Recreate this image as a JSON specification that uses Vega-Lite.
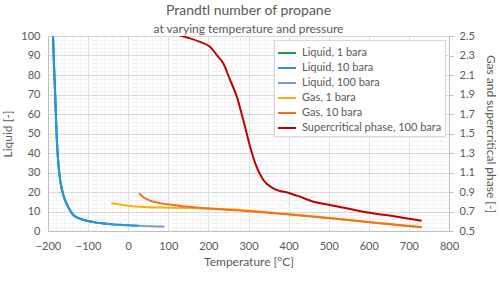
{
  "$schema": "https://vega.github.io/schema/vega-lite/v6.json",
  "width": 401,
  "height": 195,
  "autosize": {"type": "none"},
  "padding": {"left": 48, "top": 36, "right": 51, "bottom": 52},
  "background": "white",
  "title": {
    "text": "Prandtl number of propane",
    "subtitle": "at varying temperature and pressure",
    "font": "Lato", "subtitleFont": "Lato",
    "fontSize": 14, "subtitleFontSize": 12,
    "fontWeight": "normal",
    "color": "#595959", "subtitleColor": "#595959",
    "anchor": "middle", "frame": "group", "offset": -5, "subtitlePadding": 6
  },
  "config": {
    "view": {"stroke": null},
    "axis": {
      "labelFont": "Lato", "labelFontSize": 11, "labelColor": "#595959",
      "titleFont": "Lato", "titleFontSize": 12, "titleFontWeight": "normal", "titleColor": "#595959",
      "domainColor": "#bfbfbf", "labelOverlap": false
    },
    "axisX": {"labelOverlap": false, "labelFlush": false},
    "legend": {
      "labelFont": "Lato", "labelFontSize": 11, "labelColor": "#595959"
    }
  },
  "data": {
    "values": [
      {"T": -187.6, "Pr": 100.5, "series": "Liquid, 100 bara", "phase": "liquid"},
      {"T": -185, "Pr": 85, "series": "Liquid, 100 bara", "phase": "liquid"},
      {"T": -182.5, "Pr": 72, "series": "Liquid, 100 bara", "phase": "liquid"},
      {"T": -178, "Pr": 47, "series": "Liquid, 100 bara", "phase": "liquid"},
      {"T": -175, "Pr": 37, "series": "Liquid, 100 bara", "phase": "liquid"},
      {"T": -172, "Pr": 30, "series": "Liquid, 100 bara", "phase": "liquid"},
      {"T": -165, "Pr": 21, "series": "Liquid, 100 bara", "phase": "liquid"},
      {"T": -157.6, "Pr": 15.9, "series": "Liquid, 100 bara", "phase": "liquid"},
      {"T": -150, "Pr": 12.5, "series": "Liquid, 100 bara", "phase": "liquid"},
      {"T": -137, "Pr": 8.2, "series": "Liquid, 100 bara", "phase": "liquid"},
      {"T": -120, "Pr": 6.3, "series": "Liquid, 100 bara", "phase": "liquid"},
      {"T": -100, "Pr": 5.1, "series": "Liquid, 100 bara", "phase": "liquid"},
      {"T": -80, "Pr": 4.3, "series": "Liquid, 100 bara", "phase": "liquid"},
      {"T": -60, "Pr": 3.8, "series": "Liquid, 100 bara", "phase": "liquid"},
      {"T": -42, "Pr": 3.4, "series": "Liquid, 100 bara", "phase": "liquid"},
      {"T": -20, "Pr": 3.15, "series": "Liquid, 100 bara", "phase": "liquid"},
      {"T": 0, "Pr": 2.95, "series": "Liquid, 100 bara", "phase": "liquid"},
      {"T": 26, "Pr": 2.7, "series": "Liquid, 100 bara", "phase": "liquid"},
      {"T": 50, "Pr": 2.5, "series": "Liquid, 100 bara", "phase": "liquid"},
      {"T": 70, "Pr": 2.35, "series": "Liquid, 100 bara", "phase": "liquid"},
      {"T": 90, "Pr": 2.2, "series": "Liquid, 100 bara", "phase": "liquid"},

      {"T": -187.6, "Pr": 100.5, "series": "Liquid, 1 bara", "phase": "liquid"},
      {"T": -185, "Pr": 85, "series": "Liquid, 1 bara", "phase": "liquid"},
      {"T": -182.5, "Pr": 72, "series": "Liquid, 1 bara", "phase": "liquid"},
      {"T": -178, "Pr": 47, "series": "Liquid, 1 bara", "phase": "liquid"},
      {"T": -175, "Pr": 37, "series": "Liquid, 1 bara", "phase": "liquid"},
      {"T": -172, "Pr": 30, "series": "Liquid, 1 bara", "phase": "liquid"},
      {"T": -165, "Pr": 21, "series": "Liquid, 1 bara", "phase": "liquid"},
      {"T": -157.6, "Pr": 15.9, "series": "Liquid, 1 bara", "phase": "liquid"},
      {"T": -150, "Pr": 12.5, "series": "Liquid, 1 bara", "phase": "liquid"},
      {"T": -137, "Pr": 8.2, "series": "Liquid, 1 bara", "phase": "liquid"},
      {"T": -120, "Pr": 6.3, "series": "Liquid, 1 bara", "phase": "liquid"},
      {"T": -100, "Pr": 5.1, "series": "Liquid, 1 bara", "phase": "liquid"},
      {"T": -80, "Pr": 4.3, "series": "Liquid, 1 bara", "phase": "liquid"},
      {"T": -60, "Pr": 3.8, "series": "Liquid, 1 bara", "phase": "liquid"},
      {"T": -42, "Pr": 3.4, "series": "Liquid, 1 bara", "phase": "liquid"},

      {"T": -187.6, "Pr": 100.5, "series": "Liquid, 10 bara", "phase": "liquid"},
      {"T": -185, "Pr": 85, "series": "Liquid, 10 bara", "phase": "liquid"},
      {"T": -182.5, "Pr": 72, "series": "Liquid, 10 bara", "phase": "liquid"},
      {"T": -178, "Pr": 47, "series": "Liquid, 10 bara", "phase": "liquid"},
      {"T": -175, "Pr": 37, "series": "Liquid, 10 bara", "phase": "liquid"},
      {"T": -172, "Pr": 30, "series": "Liquid, 10 bara", "phase": "liquid"},
      {"T": -165, "Pr": 21, "series": "Liquid, 10 bara", "phase": "liquid"},
      {"T": -157.6, "Pr": 15.9, "series": "Liquid, 10 bara", "phase": "liquid"},
      {"T": -150, "Pr": 12.5, "series": "Liquid, 10 bara", "phase": "liquid"},
      {"T": -137, "Pr": 8.2, "series": "Liquid, 10 bara", "phase": "liquid"},
      {"T": -120, "Pr": 6.3, "series": "Liquid, 10 bara", "phase": "liquid"},
      {"T": -100, "Pr": 5.1, "series": "Liquid, 10 bara", "phase": "liquid"},
      {"T": -80, "Pr": 4.3, "series": "Liquid, 10 bara", "phase": "liquid"},
      {"T": -60, "Pr": 3.8, "series": "Liquid, 10 bara", "phase": "liquid"},
      {"T": -42, "Pr": 3.4, "series": "Liquid, 10 bara", "phase": "liquid"},
      {"T": -20, "Pr": 3.15, "series": "Liquid, 10 bara", "phase": "liquid"},
      {"T": 0, "Pr": 2.95, "series": "Liquid, 10 bara", "phase": "liquid"},
      {"T": 26, "Pr": 2.7, "series": "Liquid, 10 bara", "phase": "liquid"},

      {"T": -42, "Pr": 0.784, "series": "Gas, 1 bara", "phase": "gas"},
      {"T": 0, "Pr": 0.76, "series": "Gas, 1 bara", "phase": "gas"},
      {"T": 29, "Pr": 0.749, "series": "Gas, 1 bara", "phase": "gas"},
      {"T": 112, "Pr": 0.739, "series": "Gas, 1 bara", "phase": "gas"},
      {"T": 200, "Pr": 0.729, "series": "Gas, 1 bara", "phase": "gas"},
      {"T": 279, "Pr": 0.716, "series": "Gas, 1 bara", "phase": "gas"},
      {"T": 403, "Pr": 0.672, "series": "Gas, 1 bara", "phase": "gas"},
      {"T": 503, "Pr": 0.634, "series": "Gas, 1 bara", "phase": "gas"},
      {"T": 603, "Pr": 0.59, "series": "Gas, 1 bara", "phase": "gas"},
      {"T": 732, "Pr": 0.538, "series": "Gas, 1 bara", "phase": "gas"},

      {"T": 27, "Pr": 0.887, "series": "Gas, 10 bara", "phase": "gas"},
      {"T": 38, "Pr": 0.846, "series": "Gas, 10 bara", "phase": "gas"},
      {"T": 54, "Pr": 0.813, "series": "Gas, 10 bara", "phase": "gas"},
      {"T": 79, "Pr": 0.786, "series": "Gas, 10 bara", "phase": "gas"},
      {"T": 112, "Pr": 0.767, "series": "Gas, 10 bara", "phase": "gas"},
      {"T": 150, "Pr": 0.748, "series": "Gas, 10 bara", "phase": "gas"},
      {"T": 196, "Pr": 0.733, "series": "Gas, 10 bara", "phase": "gas"},
      {"T": 279, "Pr": 0.709, "series": "Gas, 10 bara", "phase": "gas"},
      {"T": 403, "Pr": 0.67, "series": "Gas, 10 bara", "phase": "gas"},
      {"T": 503, "Pr": 0.632, "series": "Gas, 10 bara", "phase": "gas"},
      {"T": 603, "Pr": 0.589, "series": "Gas, 10 bara", "phase": "gas"},
      {"T": 732, "Pr": 0.537, "series": "Gas, 10 bara", "phase": "gas"},

      {"T": 128, "Pr": 2.505, "series": "Supercritical phase, 100 bara", "phase": "gas"},
      {"T": 154, "Pr": 2.476, "series": "Supercritical phase, 100 bara", "phase": "gas"},
      {"T": 179, "Pr": 2.44, "series": "Supercritical phase, 100 bara", "phase": "gas"},
      {"T": 204, "Pr": 2.39, "series": "Supercritical phase, 100 bara", "phase": "gas"},
      {"T": 221, "Pr": 2.305, "series": "Supercritical phase, 100 bara", "phase": "gas"},
      {"T": 237, "Pr": 2.22, "series": "Supercritical phase, 100 bara", "phase": "gas"},
      {"T": 254, "Pr": 2.05, "series": "Supercritical phase, 100 bara", "phase": "gas"},
      {"T": 271, "Pr": 1.877, "series": "Supercritical phase, 100 bara", "phase": "gas"},
      {"T": 287, "Pr": 1.638, "series": "Supercritical phase, 100 bara", "phase": "gas"},
      {"T": 304, "Pr": 1.365, "series": "Supercritical phase, 100 bara", "phase": "gas"},
      {"T": 320, "Pr": 1.16, "series": "Supercritical phase, 100 bara", "phase": "gas"},
      {"T": 337, "Pr": 1.023, "series": "Supercritical phase, 100 bara", "phase": "gas"},
      {"T": 362, "Pr": 0.938, "series": "Supercritical phase, 100 bara", "phase": "gas"},
      {"T": 403, "Pr": 0.887, "series": "Supercritical phase, 100 bara", "phase": "gas"},
      {"T": 428, "Pr": 0.852, "series": "Supercritical phase, 100 bara", "phase": "gas"},
      {"T": 462, "Pr": 0.8, "series": "Supercritical phase, 100 bara", "phase": "gas"},
      {"T": 503, "Pr": 0.767, "series": "Supercritical phase, 100 bara", "phase": "gas"},
      {"T": 586, "Pr": 0.698, "series": "Supercritical phase, 100 bara", "phase": "gas"},
      {"T": 670, "Pr": 0.647, "series": "Supercritical phase, 100 bara", "phase": "gas"},
      {"T": 732, "Pr": 0.606, "series": "Supercritical phase, 100 bara", "phase": "gas"}
    ]
  },
  "encoding": {
    "x": {
      "field": "T", "type": "quantitative",
      "scale": {"domain": [-200, 800], "nice": false},
      "axis": {
        "title": "Temperature  [°C]",
        "values": [-200,-180,-160,-140,-120,-100,-80,-60,-40,-20,0,20,40,60,80,100,120,140,160,180,200,220,240,260,280,300,320,340,360,380,400,420,440,460,480,500,520,540,560,580,600,620,640,660,680,700,720,740,760,780,800],
        "labelExpr": "datum.value % 100 === 0 ? datum.label : ''",
        "labelOverlap": false, "labelFlush": false,
        "ticks": false, "labelPadding": 9, "titlePadding": 5,
        "grid": true,
        "gridColor": {"condition": {"test": "datum.value % 100 === 0", "value": "#d9d9d9"}, "value": "#f2f2f2"}
      }
    },
    "color": {
      "field": "series", "type": "nominal",
      "scale": {
        "domain": ["Liquid, 1 bara", "Liquid, 10 bara", "Liquid, 100 bara", "Gas, 1 bara", "Gas, 10 bara", "Supercritical phase, 100 bara"],
        "range": ["#1f9e3a", "#2196e8", "#7b9ad4", "#ffb000", "#f07020", "#c00000"]
      },
      "legend": {
        "title": null, "orient": "top-right", "offset": 4,
        "fillColor": "white", "strokeColor": "#d9d9d9", "padding": 3,
        "symbolType": "stroke", "symbolStrokeWidth": 2, "symbolSize": 324,
        "rowPadding": -1.5, "labelOffset": 5
      }
    }
  },
  "layer": [
    {
      "transform": [{"filter": "datum.phase === 'liquid'"}],
      "mark": {"type": "line", "interpolate": "monotone", "clip": true, "strokeWidth": 2},
      "encoding": {
        "y": {
          "field": "Pr", "type": "quantitative",
          "scale": {"domain": [0, 100], "nice": false},
          "axis": {
            "title": "Liquid [-]",
            "values": [0,2,4,6,8,10,12,14,16,18,20,22,24,26,28,30,32,34,36,38,40,42,44,46,48,50,52,54,56,58,60,62,64,66,68,70,72,74,76,78,80,82,84,86,88,90,92,94,96,98,100],
            "labelExpr": "datum.value % 10 === 0 ? datum.label : ''",
            "labelOverlap": false, "labelFlush": false,
            "ticks": false, "labelPadding": 8, "titlePadding": 6,
            "grid": true,
            "gridColor": {"condition": {"test": "datum.value % 10 === 0", "value": "#d9d9d9"}, "value": "#f2f2f2"}
          }
        }
      }
    },
    {
      "transform": [{"filter": "datum.phase === 'gas'"}],
      "mark": {"type": "line", "interpolate": "monotone", "clip": true, "strokeWidth": 2},
      "encoding": {
        "y": {
          "field": "Pr", "type": "quantitative",
          "scale": {"domain": [0.5, 2.5], "nice": false},
          "axis": {
            "orient": "right",
            "title": "Gas and supercritical phase [-]",
            "values": [0.5,0.7,0.9,1.1,1.3,1.5,1.7,1.9,2.1,2.3,2.5],
            "format": ".1f",
            "labelOverlap": false, "labelFlush": false,
            "grid": false, "ticks": true, "tickSize": 4, "tickColor": "#bfbfbf",
            "labelPadding": 6, "titlePadding": 9
          }
        }
      }
    }
  ],
  "resolve": {"scale": {"y": "independent"}}
}
